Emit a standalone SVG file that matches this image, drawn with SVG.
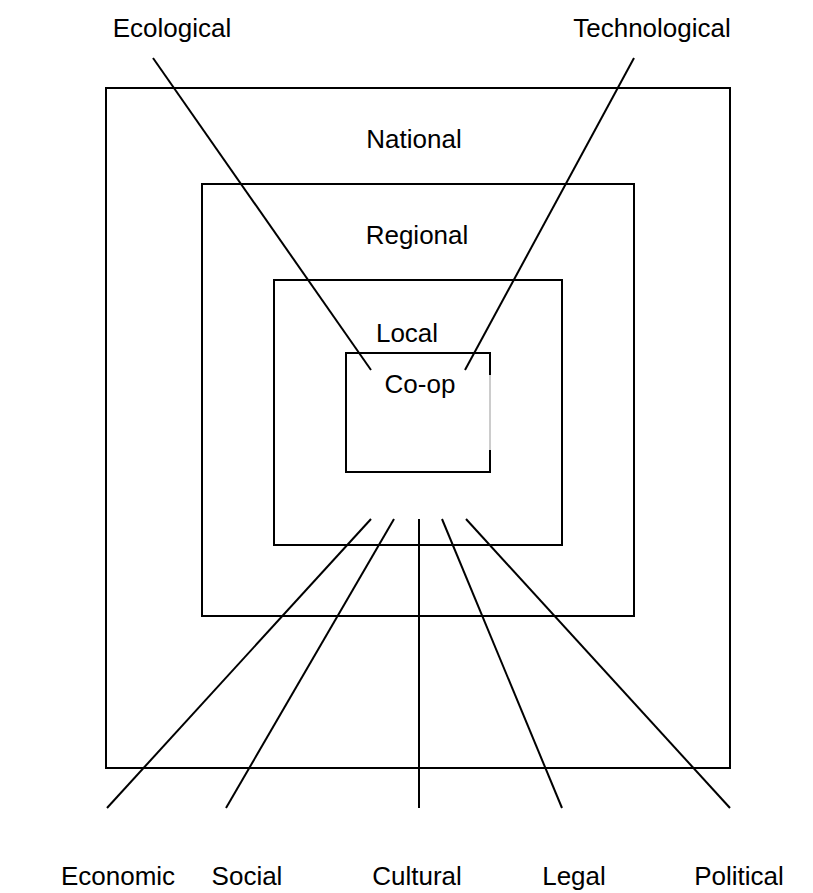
<svg xmlns="http://www.w3.org/2000/svg" width="813" height="893" viewBox="0 0 813 893">
<style>
.box{fill:none;stroke:#000;stroke-width:2}
.ln{stroke:#000;stroke-width:2;fill:none}
text{font-family:"Liberation Sans",Arial,sans-serif;font-size:26px;fill:#000;text-anchor:middle}
</style>
<rect width="813" height="893" fill="#fff"/>
<g id="national"><rect class="box" x="106" y="88" width="624" height="680"/><text x="414" y="148">National</text></g>
<g id="regional"><rect class="box" x="202" y="184" width="432" height="432"/><text x="417" y="244">Regional</text></g>
<g id="local"><rect class="box" x="274" y="280" width="288" height="265"/><text x="407" y="342">Local</text></g>
<g id="coop">
<path class="ln" d="M490,375 V353 H346 V472 H490 V450"/>
<path d="M490,375 V450" stroke="#999" stroke-width="1" fill="none"/>
<text x="420" y="393">Co-op</text></g>
<g id="labels">
<text x="172" y="37">Ecological</text>
<text x="652" y="37">Technological</text>
<text x="118" y="885">Economic</text>
<text x="247" y="885">Social</text>
<text x="417" y="885">Cultural</text>
<text x="574" y="885">Legal</text>
<text x="739" y="885">Political</text>
</g>
<g id="connectors">
<line class="ln" x1="153" y1="58" x2="371" y2="370"/>
<line class="ln" x1="634" y1="58" x2="465" y2="370"/>
<line class="ln" x1="371" y1="519" x2="107" y2="808"/>
<line class="ln" x1="394" y1="519" x2="226" y2="808"/>
<line class="ln" x1="419" y1="519" x2="419" y2="808"/>
<line class="ln" x1="442" y1="519" x2="562" y2="808"/>
<line class="ln" x1="466" y1="519" x2="730" y2="808"/>
</g>
</svg>
